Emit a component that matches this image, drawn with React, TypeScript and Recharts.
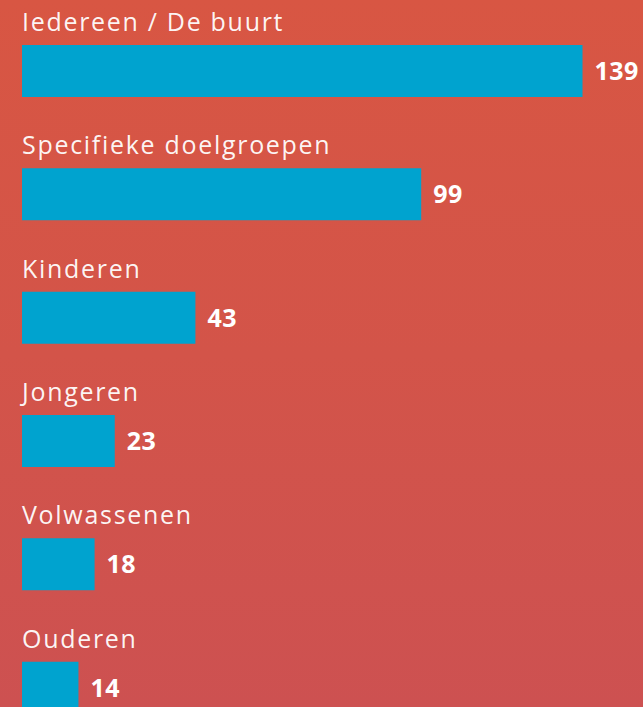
import React from "react";
import { BarChart, Bar, XAxis, YAxis, LabelList } from "recharts";

const categories = ["Iedereen / De buurt", "Specifieke doelgroepen", "Kinderen", "Jongeren", "Volwassenen", "Ouderen"];
const values = [139, 99, 43, 23, 18, 14];

const data = categories.map((name, i) => ({ name, value: values[i] }));

const FONT = "'Open Sans', Lato, sans-serif";

const NameLabel = (props: any) => {
  const { x, y, value } = props;
  return (
    <text x={x} y={y - 14} fill="#ffffff" fontSize={25} fontFamily={FONT} fontWeight={400} letterSpacing={1.7} fillOpacity={0.95}>
      {value}
    </text>
  );
};

const ValueLabel = (props: any) => {
  const { x, y, width, height, value } = props;
  return (
    <text x={x + width + 12} y={y + height / 2 + 9} fill="#ffffff" fontSize={25} fontFamily={FONT} fontWeight={700} letterSpacing={0.5}>
      {value}
    </text>
  );
};

export default function App() {
  return (
    <div
      style={{
        position: "fixed",
        top: 0,
        left: 0,
        width: 643,
        height: 707,
        overflow: "hidden",
        background: "linear-gradient(180deg, #d85643 0%, #d35449 50%, #cd5151 100%)",
      }}
    >
      <BarChart
        width={643}
        height={749}
        data={data}
        layout="vertical"
        margin={{ top: 9, right: 0, bottom: 0, left: 22 }}
      >
        <XAxis type="number" hide domain={[0, 154]} />
        <YAxis type="category" dataKey="name" hide />
        <Bar dataKey="value" fill="#00a3cf" barSize={52} isAnimationActive={false}>
          <LabelList dataKey="name" content={<NameLabel />} />
          <LabelList dataKey="value" content={<ValueLabel />} />
        </Bar>
      </BarChart>
    </div>
  );
}
